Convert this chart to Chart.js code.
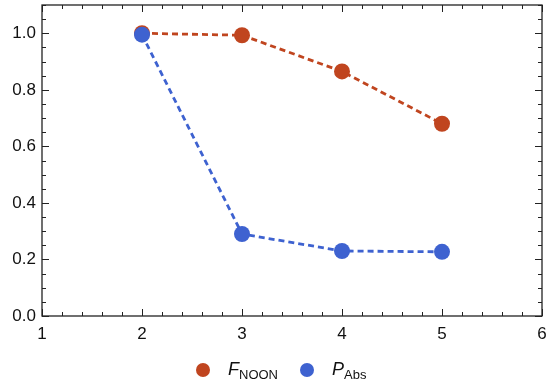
<!DOCTYPE html>
<html>
<head>
<meta charset="utf-8">
<script src="https://cdn.jsdelivr.net/npm/chart.js@4"></script>
<style>
  html, body { margin: 0; padding: 0; background: #fff; }
  #wrap { position: relative; width: 546px; height: 385px; overflow: hidden; }
  #legend {
    position: absolute; left: 196px; top: 358px; height: 24px;
    font-family: "Liberation Sans", Arial, sans-serif; font-size: 18px; color: #111;
    display: flex; align-items: center; white-space: nowrap;
  }
  .item { display: flex; align-items: center; }
  .item + .item { margin-left: 22px; }
  .dot { display: inline-block; width: 14px; height: 14px; border-radius: 50%; margin-right: 18px; }
  sub { font-size: 13px; vertical-align: -4px; }
</style>
</head>
<body>
<div id="wrap">
  <canvas id="mainCanvas" width="546" height="385"></canvas>
  <div id="legend">
    <span class="item"><span class="dot" style="background:#c0451f"></span><span><i>F</i><sub>NOON</sub></span></span>
    <span class="item"><span class="dot" style="background:#3e62d0"></span><span><i>P</i><sub>Abs</sub></span></span>
  </div>
</div>
<script>
// values
const nValues = [2, 3, 4, 5];
const fNoon = [1.0, 0.993, 0.865, 0.68];
const pAbs = [0.995, 0.29, 0.23, 0.227];
const xTicks = [1, 2, 3, 4, 5, 6];
const yTicks = [0.0, 0.2, 0.4, 0.6, 0.8, 1.0];

const red = '#c0451f';
const blue = '#3e62d0';

// Mathematica-like frame with inward ticks on all four sides
const framePlugin = {
  id: 'frame',
  afterDraw(chart) {
    const c = chart.ctx;
    const a = chart.chartArea;
    const xs = chart.scales.x, ys = chart.scales.y;
    c.save();
    c.strokeStyle = '#222';
    c.lineWidth = 1.3;
    c.strokeRect(a.left, a.top, a.right - a.left, a.bottom - a.top);
    c.lineWidth = 1;
    for (let i = 0; i <= 25; i++) {
      const v = 1 + i * 0.2;
      const len = i % 5 === 0 ? 7 : 4;
      const px = Math.round(xs.getPixelForValue(v)) + 0.5;
      c.beginPath();
      c.moveTo(px, a.bottom); c.lineTo(px, a.bottom - len);
      c.moveTo(px, a.top); c.lineTo(px, a.top + len);
      c.stroke();
    }
    for (let i = 0; i <= 22; i++) {
      const v = i * 0.05;
      const len = i % 4 === 0 ? 7 : 4;
      const py = Math.round(ys.getPixelForValue(v)) + 0.5;
      c.beginPath();
      c.moveTo(a.left, py); c.lineTo(a.left + len, py);
      c.moveTo(a.right, py); c.lineTo(a.right - len, py);
      c.stroke();
    }
    c.restore();
  }
};

function noPad(s) {
  s.paddingTop = 0; s.paddingBottom = 0; s.paddingLeft = 0; s.paddingRight = 0;
}

const tickFont = { family: '"Liberation Sans", Arial, sans-serif', size: 17 };

const ctx = document.getElementById('mainCanvas').getContext('2d');
new Chart(ctx, {
  type: 'line',
  data: {
    datasets: [
      {
        label: 'F_NOON',
        data: nValues.map((n, i) => ({ x: n, y: fNoon[i] })),
        borderColor: red,
        backgroundColor: red,
        borderWidth: 2.8,
        borderDash: [6, 4],
        pointRadius: 8,
        pointHoverRadius: 8,
        pointBorderWidth: 0,
        order: 2
      },
      {
        label: 'P_Abs',
        data: nValues.map((n, i) => ({ x: n, y: pAbs[i] })),
        borderColor: blue,
        backgroundColor: blue,
        borderWidth: 2.8,
        borderDash: [6, 4],
        pointRadius: 8,
        pointHoverRadius: 8,
        pointBorderWidth: 0,
        order: 1
      }
    ]
  },
  options: {
    responsive: false,
    animation: false,
    layout: { autoPadding: false, padding: { top: 5, right: 4, left: 0, bottom: 0 } },
    plugins: { legend: { display: false }, tooltip: { enabled: false } },
    scales: {
      x: {
        type: 'linear', min: 1, max: 6,
        grid: { display: false, drawTicks: false },
        border: { display: false },
        afterBuildTicks: s => { s.ticks = xTicks.map(v => ({ value: v })); },
        afterFit: s => { s.height = 69; noPad(s); },
        ticks: {
          padding: 8, color: '#111', maxRotation: 0,
          font: tickFont,
          callback: v => String(v)
        }
      },
      y: {
        type: 'linear', min: 0, max: 1.1,
        grid: { display: false, drawTicks: false },
        border: { display: false },
        afterBuildTicks: s => { s.ticks = yTicks.map(v => ({ value: v })); },
        afterFit: s => { s.width = 42; noPad(s); },
        ticks: {
          padding: 6, color: '#111',
          font: tickFont,
          callback: v => Number(v).toFixed(1)
        }
      }
    }
  },
  plugins: [framePlugin]
});
</script>
</body>
</html>
